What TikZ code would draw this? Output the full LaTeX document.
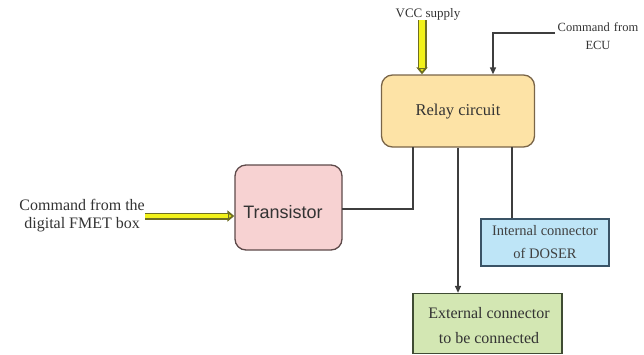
\documentclass[tikz,border=0pt]{standalone}
\usepackage{fontspec}
\setmainfont{Liberation Serif}
\newfontfamily\arialfont{Liberation Sans}
\usetikzlibrary{arrows.meta,positioning}
\definecolor{relayfill}{HTML}{FDE3A6}
\definecolor{relayline}{HTML}{7A6548}
\definecolor{transfill}{HTML}{F7D2D2}
\definecolor{transline}{HTML}{5E4A4A}
\definecolor{intfill}{HTML}{BEE5F7}
\definecolor{intline}{HTML}{3A5366}
\definecolor{extfill}{HTML}{D3E7B3}
\definecolor{extline}{HTML}{3F4C33}
\definecolor{wire}{HTML}{3E3E3E}
\definecolor{supply}{HTML}{F2F21A}
\definecolor{supplyedge}{HTML}{6E6E22}
\tikzset{
  blockbox/.style={draw, line width=1.3pt, rounded corners=11pt, inner sep=0pt},
  flatbox/.style={draw, line width=1.3pt, inner sep=0pt},
  txt/.style={font=\fontsize{#1}{18}\selectfont, text=black!80, align=center, inner sep=0pt},
  wireline/.style={draw=wire, line width=1.3pt},
  wirearrow/.style={wireline, -{Triangle[length=7pt,width=6pt]}},
  yellowarrow/.style={draw=supplyedge, line width=#1,
     -{Triangle[length=7pt,width=11pt,fill=supply]},
     postaction={draw=supply, line width=#1-2.6pt, -, shorten >=6.5pt}},
}
\begin{document}
\begin{tikzpicture}[x=1pt,y=-1pt]
\useasboundingbox (0,0) rectangle (644,354);
% blocks
\node[blockbox, draw=relayline, fill=relayfill, minimum width=153pt, minimum height=72pt] (relay) at (458,111) {};
\node[txt=16.5] at (458,112) {Relay circuit};
\node[blockbox, draw=transline, fill=transfill, minimum width=107pt, minimum height=85pt] (trans) at (288.5,207.5) {};
\node[txt=18, font=\arialfont\fontsize{18}{20}\selectfont] at (283,212) {Transistor};
\node[flatbox, draw=intline, fill=intfill, minimum width=128pt, minimum height=47pt] (int) at (545,242.5) {};
\node[txt=14.5, text=black!75] at (545,231) {Internal connector};
\node[txt=14.5, text=black!75] at (545,253) {of DOSER};
\node[flatbox, draw=extline, fill=extfill, minimum width=149pt, minimum height=60pt] (ext) at (487.5,323.5) {};
\node[txt=16] at (489,313) {External connector};
\node[txt=16] at (489,338) {to be connected};
% free texts
\node[txt=16, anchor=east] (fmet) at (145,216) {Command from the\\digital FMET box};
\node[txt=13] (vcc) at (428,14) {VCC supply};
\node[txt=12.5, text width=90pt] (ecu) at (598,36) {Command from\\ECU};
\coordinate (ecuin) at (555,33);
\coordinate (relaytap) at (413,147);
\coordinate (inttap) at (512,147);
\coordinate (tout) at (342,209);
% connectors
\draw[yellowarrow=7pt] (fmet.east) -- (fmet.east -| trans.west);
\draw[yellowarrow=9pt] ([xshift=-6pt]vcc.south) -- ([xshift=-6pt]vcc.south |- relay.north);
\draw[wirearrow] (ecuin) -| ([xshift=35pt]relay.north);
\draw[wireline] (tout) -- (relaytap |- tout) -- (relaytap);
\draw[wirearrow] (relay.south) -- (ext.north -| relay.south);
\draw[wireline] (inttap) -- (inttap |- int.north);
\end{tikzpicture}
\end{document}
